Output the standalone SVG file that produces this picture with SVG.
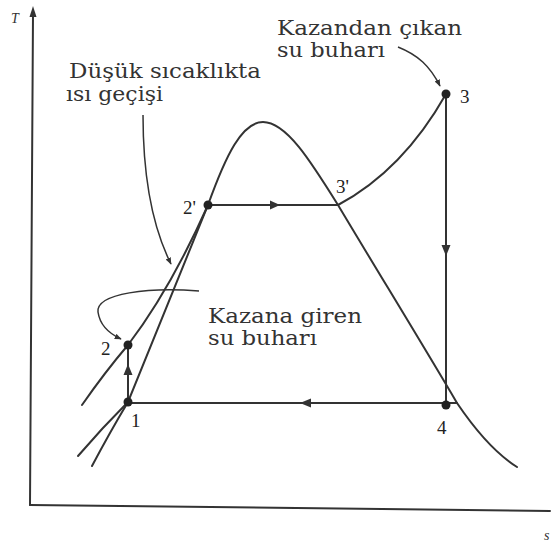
<svg xmlns="http://www.w3.org/2000/svg" width="552" height="542" viewBox="0 0 552 542">
<defs>
<marker id="ah" viewBox="0 0 10 10" refX="9" refY="5" markerWidth="7" markerHeight="7" orient="auto" markerUnits="userSpaceOnUse">
<path d="M0,1 L10,5 L0,9 Z" fill="#333"/>
</marker>
</defs>
<style>
.ln{fill:none;stroke:#333;stroke-width:2;stroke-linecap:round}
.thin{fill:none;stroke:#333;stroke-width:1.5}
.pt{fill:#222}
.lbl{font-family:"DejaVu Serif","Liberation Serif",serif;font-size:21px;fill:#333}
.num{font-family:"Liberation Serif","DejaVu Serif",serif;font-size:19px;fill:#222}
.ax{font-family:"Liberation Serif",serif;font-style:italic;font-size:14px;fill:#333}
</style>
<rect width="552" height="542" fill="#fff"/>
<g id="axes">
<line class="ln" x1="33" y1="14" x2="30" y2="505"/>
<path d="M33,6 L36.5,17 L29.5,17 Z" fill="#333"/>
<line class="ln" x1="30" y1="505" x2="550" y2="511"/>
<text class="ax" x="11" y="23">T</text>
<text class="ax" x="544" y="540">s</text>
</g>
<g id="connectors">
<path id="dome" class="ln" d="M92,466 Q110,432 128,402 L208,205 C226,155 242,122 263,122 C286,122 310,160 338,205 C378,272 420,340 457,403 C478,434 498,455 517,467"/>
<path class="ln" d="M78,456 Q102,428 128,402"/>
<path id="line22p" class="ln" d="M82,405 Q105,372 128,345 Q170,290 208,205"/>
<path id="super" class="ln" d="M338,205 C385,180 420,140 446,94"/>
<line class="ln" x1="208" y1="205" x2="338" y2="205"/>
<path d="M280,205 L270,200.5 L270,209.5 Z" fill="#333"/>
<line class="ln" x1="446" y1="94" x2="446" y2="405"/>
<path d="M446,256 L441.5,245 L450.5,245 Z" fill="#333"/>
<line class="ln" x1="128" y1="403" x2="457" y2="403"/>
<path d="M300,403 L311,398.5 L311,407.5 Z" fill="#333"/>
<line class="ln" x1="128" y1="402" x2="128" y2="345"/>
<path d="M128,364 L123.5,375 L132.5,375 Z" fill="#333"/>
<path class="thin" d="M143,115 C143,180 154,230 171,264" marker-end="url(#ah)"/>
<path class="thin" d="M398,47 C418,55 430,66 440,86" marker-end="url(#ah)"/>
<path class="thin" d="M199,291 C150,287 96,293 98,312 C100,326 110,334 121,339" marker-end="url(#ah)"/>
</g>
<g id="p1"><circle class="pt" cx="128" cy="402" r="4.5"/><text class="num" x="131" y="427">1</text></g>
<g id="p2"><circle class="pt" cx="128" cy="345" r="4.5"/><text class="num" x="101" y="355">2</text></g>
<g id="p2p"><circle class="pt" cx="208" cy="205" r="4.5"/><text class="num" x="183" y="214">2'</text></g>
<g id="p3p"><text class="num" x="336" y="193">3'</text></g>
<g id="p3"><circle class="pt" cx="446" cy="94" r="4.5"/><text class="num" x="460" y="103">3</text></g>
<g id="p4"><circle class="pt" cx="446" cy="405" r="4.5"/><text class="num" x="437" y="434">4</text></g>
<g id="label-low"><text class="lbl" x="69" y="78" textLength="192" lengthAdjust="spacingAndGlyphs">Düşük sıcaklıkta</text><text class="lbl" x="66" y="101" textLength="97" lengthAdjust="spacingAndGlyphs">ısı geçişi</text></g>
<g id="label-out"><text class="lbl" x="277" y="35" textLength="185" lengthAdjust="spacingAndGlyphs">Kazandan çıkan</text><text class="lbl" x="277" y="57" textLength="108" lengthAdjust="spacingAndGlyphs">su buharı</text></g>
<g id="label-in"><text class="lbl" x="208" y="323" textLength="154" lengthAdjust="spacingAndGlyphs">Kazana giren</text><text class="lbl" x="208" y="345" textLength="109" lengthAdjust="spacingAndGlyphs">su buharı</text></g>
</svg>
